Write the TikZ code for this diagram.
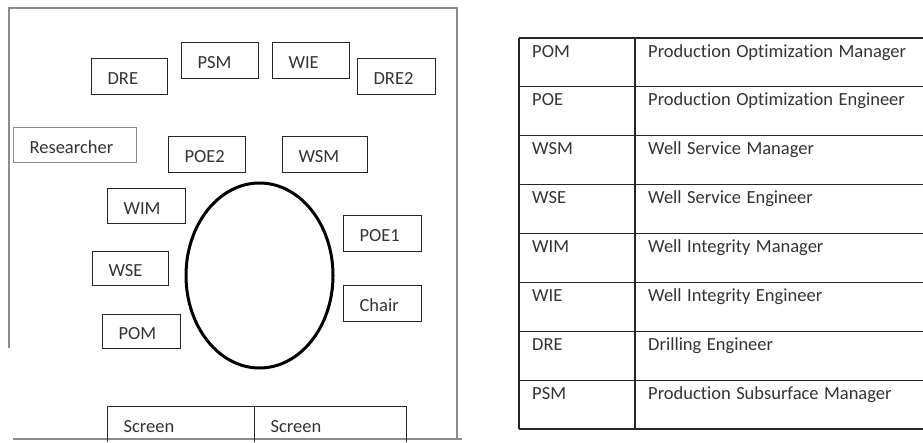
\documentclass[tikz,border=0pt]{standalone}
\usepackage{fontspec}
\setmainfont{Carlito}[Ligatures={NoCommon,NoContextual}, WordSpace=1.3]

\begin{document}
\begin{tikzpicture}[x=1pt, y=-1pt,
		seat/.style={draw=black!85, line width=1.2pt, anchor=north west,
			minimum height=36pt, text height=16pt, text depth=0pt,
			inner xsep=16pt, inner ysep=0pt, text width=#1, align=left,
			font=\fontsize{18.5}{20}\selectfont, text=black!80},
		cell/.style={anchor=base west, inner sep=0pt,
			font=\fontsize{18.5}{20}\selectfont, text=black!80},
		frame/.style={draw=black!45, line width=1.2pt},
		rule/.style={draw=black!85, line width=1.2pt}]
	
	% picture size
	\useasboundingbox (0,0) rectangle (923,442);
	\clip (0,0) rectangle (923,441);
	
	% --- Room outline ---
	\draw[frame] (9,348) -- (9,8) -- (457,8) -- (457,439);
	\draw[frame] (13,439) -- (462,439);
	
	% --- Meeting table ---
	\draw[line width=3pt] (259.5,275.5) ellipse [x radius=73.5pt, y radius=92.5pt];
	
	% --- Seats ---
	\node[seat=44pt] (dre)  at (91,58)  {DRE};
	\node[seat=45pt] (psm)  at (181,42) {PSM};
	\node[seat=45pt] (wie)  at (272,42) {WIE};
	\node[seat=46pt] (dre2) at (357,58) {DRE2};
	\node[seat=91pt, draw=black!45, minimum height=35pt] (res) at (13,127) {Researcher};
	\node[seat=45pt] (poe2) at (168,136) {POE2};
	\node[seat=53pt] (wsm)  at (282,136) {WSM};
	\node[seat=46pt, minimum height=35pt] (wim) at (107,188) {WIM};
	\node[seat=46pt] (poe1) at (343,215) {POE1};
	\node[seat=44pt, minimum height=34pt] (wse) at (92,251) {WSE};
	\node[seat=46pt] (chair) at (343,285) {Chair};
	\node[seat=46pt, minimum height=34pt] (pom) at (102,314) {POM};
	
	% --- Screens ---
	\node[seat=115pt] (screenA) at (107,406) {Screen};
	\node[seat=120pt] (screenB) at (254,406) {Screen};
	
	% --- Legend table ---
	\foreach \i in {0,...,8} {
		\draw[rule] (519,38+48.875*\i) -- (923,38+48.875*\i);
	}
	\draw[rule] (519,38) -- (519,429);
	\draw[rule] (635,38) -- (635,429);
	
	\foreach \abbr/\full [count=\i] in {
		POM/Production Optimization Manager,
		POE/Production Optimization Engineer,
		WSM/Well Service Manager,
		WSE/Well Service Engineer,
		WIM/Well Integrity Manager,
		WIE/Well Integrity Engineer,
		DRE/Drilling Engineer,
		PSM/Production Subsurface Manager} {
		
		\pgfmathsetmacro{\rowtop}{38+48.875*(\i-1)}
		\node[cell] (abbr\i) at (532,\rowtop+19) {\abbr};
		\node[cell] (full\i) at (648,\rowtop+19) {\full};
	}
	
\end{tikzpicture}
\end{document}
